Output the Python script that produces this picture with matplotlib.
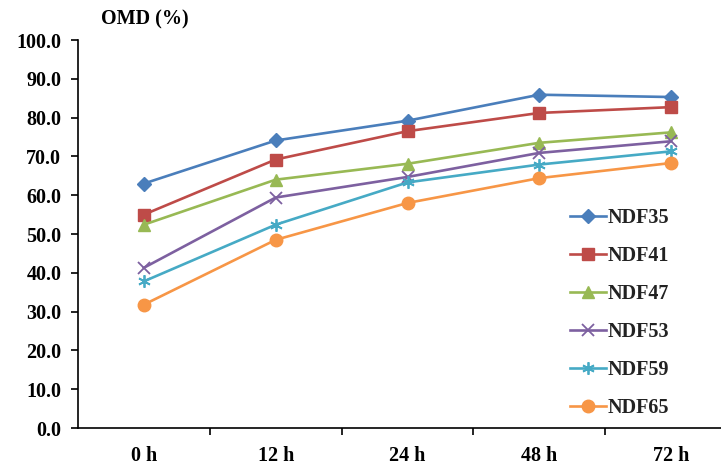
import numpy as np
import matplotlib
matplotlib.use("Agg")
import matplotlib.pyplot as plt
from matplotlib.ticker import FixedLocator, FormatStrFormatter

# Sampling times and OMD (%) for each NDF level
times = ["0 h", "12 h", "24 h", "48 h", "72 h"]
ndf35 = [63.0, 74.1, 79.2, 85.9, 85.3]
ndf41 = [55.0, 69.2, 76.5, 81.2, 82.7]
ndf47 = [52.4, 64.0, 68.1, 73.5, 76.2]
ndf53 = [41.3, 59.4, 64.7, 70.9, 73.9]
ndf59 = [37.8, 52.4, 63.3, 67.9, 71.3]
ndf65 = [31.8, 48.5, 58.0, 64.4, 68.3]

series = [
    ("NDF35", ndf35, "#4A7EBB", "D", 7),
    ("NDF41", ndf41, "#BE4B48", "s", 9),
    ("NDF47", ndf47, "#98B954", "^", 9),
    ("NDF53", ndf53, "#7D60A0", "x", 9),
    ("NDF59", ndf59, "#46AAC5", "*", 9),
    ("NDF65", ndf65, "#F79646", "o", 9),
]

FS = 14.5

plt.rcParams["font.family"] = ["Liberation Serif", "DejaVu Serif"]
plt.rcParams["font.weight"] = "bold"

fig = plt.figure(figsize=(7.21, 4.66), dpi=100)
ax = fig.add_axes([78 / 721, 38 / 466, 659 / 721, 388 / 466])

x = np.arange(len(times))
for name, vals, col, mk, ms in series:
    if mk == "*":
        ax.plot(x, vals, color=col, lw=1.9, marker=(6, 2, 0), ms=ms,
                mew=1.3, label=name)
    elif mk == "x":
        ax.plot(x, vals, color=col, lw=1.9, marker=mk, ms=ms, mew=1.3,
                label=name)
    else:
        ax.plot(x, vals, color=col, lw=1.9, marker=mk, ms=ms,
                mec=col, mfc=col, label=name)

ax.set_xlim(-0.5, 4.5)
ax.set_ylim(0, 100)
ax.set_yticks(np.arange(0, 101, 10))
ax.yaxis.set_major_formatter(FormatStrFormatter("%.1f"))
ax.set_xticks(x)
ax.set_xticklabels(times)
ax.xaxis.set_minor_locator(FixedLocator([0.5, 1.5, 2.5, 3.5, 4.5]))

for s in ["top", "right"]:
    ax.spines[s].set_visible(False)
for s in ["left", "bottom"]:
    ax.spines[s].set_linewidth(1.2)
    ax.spines[s].set_color("black")

ax.tick_params(axis="y", direction="out", length=5, width=1.2, pad=7,
               labelsize=FS)
ax.tick_params(axis="x", which="major", length=0, pad=13, labelsize=FS)
ax.tick_params(axis="x", which="minor", direction="out", length=5, width=1.2)
for lab in ax.get_xticklabels() + ax.get_yticklabels():
    lab.set_fontweight("bold")

fig.text(145 / 721, 1 - 19 / 466, "OMD (%)", ha="center", va="center",
         fontsize=FS, fontweight="bold")

leg = ax.legend(loc="center left", bbox_to_anchor=(560 / 721, 1 - 313 / 466),
                bbox_transform=fig.transFigure, frameon=False,
                handlelength=1.8, handletextpad=0.05, labelspacing=0.9,
                prop={"size": FS, "weight": "bold"}, borderpad=0)
for t in leg.get_texts():
    t.set_color("#222222")

fig.savefig("out.png", dpi=100)
